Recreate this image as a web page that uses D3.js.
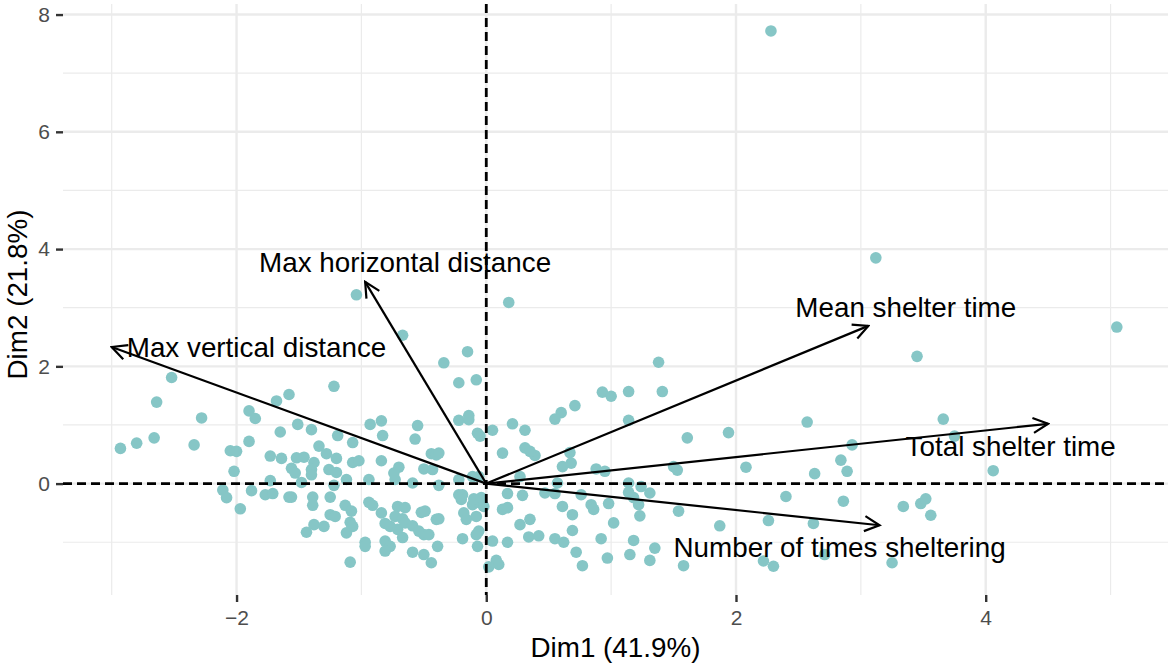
<!DOCTYPE html>
<html>
<head>
<meta charset="utf-8">
<script src="https://cdn.jsdelivr.net/npm/d3@7"></script>
<style>
  body { margin: 0; background: #fff; }
  text { font-family: "Liberation Sans", Arial, Helvetica, sans-serif; }
</style>
</head>
<body>
<div id="chart"></div>
<script>
// individuals: [Dim1, Dim2]
const individuals = [
  [-2.52,1.81],[-2.64,1.39],[-2.28,1.12],[-2.93,0.60],[-2.80,0.69],[-2.66,0.78],[-2.34,0.66],
  [-1.90,1.24],[-1.85,1.11],[-1.68,1.41],[-1.58,1.52],[-1.65,0.88],[-1.90,0.72],[-2.05,0.56],
  [-2.00,0.55],[-2.02,0.21],[-1.73,0.47],[-1.64,0.43],[-1.73,0.05],[-2.11,-0.11],[-2.08,-0.24],
  [-1.88,-0.12],[-1.77,-0.19],[-1.71,-0.17],[-1.97,-0.43],[-1.58,-0.23],[-1.22,1.66],[-1.51,1.01],
  [-1.40,0.92],[-1.19,0.82],[-1.07,0.70],[-1.34,0.64],[-1.28,0.51],[-1.20,0.43],[-1.52,0.44],
  [-1.46,0.45],[-1.38,0.36],[-1.56,0.26],[-1.53,0.18],[-1.40,0.24],[-1.40,0.15],[-1.26,0.24],
  [-1.20,0.19],[-1.07,0.36],[-1.02,0.39],[-0.84,0.39],[-0.93,1.01],[-0.84,1.07],[-0.83,0.82],
  [-0.55,0.99],[-0.57,0.76],[-0.44,0.51],[-0.40,0.49],[-0.70,0.28],[-0.74,0.18],[-0.50,0.25],
  [-0.43,0.24],[-1.48,0.02],[-1.22,-0.03],[-1.12,0.07],[-0.94,0.07],[-0.73,0.07],[-0.59,0.01],
  [-0.38,-0.03],[-0.22,0.07],[-1.56,-0.23],[-1.39,-0.23],[-1.39,-0.37],[-1.25,-0.23],[-1.13,-0.37],
  [-1.08,-0.47],[-0.94,-0.32],[-0.91,-0.37],[-0.71,-0.39],[-0.65,-0.41],[-0.84,-0.50],[-0.73,-0.56],
  [-0.67,-0.60],[-0.52,-0.49],[-0.49,-0.47],[-1.25,-0.53],[-1.21,-0.56],[-0.81,-0.68],[-0.77,-0.73],
  [-0.65,-0.67],[-0.59,-0.72],[-0.40,-0.61],[-0.38,-0.60],[-1.09,-0.66],[-1.07,-0.73],[-1.38,-0.70],
  [-1.30,-0.73],[-1.44,-0.83],[-1.12,-0.84],[-0.71,-0.78],[-0.67,-0.92],[-0.54,-0.81],[-0.50,-0.87],
  [-0.46,-0.87],[-0.97,-1.00],[-0.97,-1.07],[-0.81,-0.98],[-0.77,-1.07],[-0.81,-1.15],[-0.59,-1.17],
  [-0.50,-1.21],[-0.44,-1.35],[-0.39,-1.07],[-1.09,-1.34],[-0.22,-0.19],[-0.19,-0.19],[-0.20,-0.27],
  [-0.11,-0.36],[-0.06,-0.32],[-0.02,-0.39],[-0.08,-0.56],[-0.18,-0.50],[-0.16,-0.61],[-0.06,-0.81],
  [-0.08,-0.87],[-0.19,-0.94],[-0.07,-1.07],[-0.22,1.72],[-0.08,1.77],[-0.22,1.08],[-0.14,1.16],
  [-0.14,1.09],[-0.07,0.86],[-0.05,0.81],[-0.06,0.12],[-0.11,0.12],[-1.04,3.22],[-0.67,2.53],
  [-0.15,2.25],[-0.34,2.06],[0.18,3.09],[1.38,2.07],[0.93,1.56],[1.00,1.49],[1.14,1.57],
  [1.41,1.57],[0.71,1.33],[0.60,1.21],[0.55,1.10],[1.14,1.08],[1.61,0.78],[0.21,1.02],
  [0.05,0.91],[0.31,0.91],[0.13,0.52],[0.31,0.61],[0.39,0.48],[0.35,0.55],[0.67,0.53],
  [0.68,0.35],[0.61,0.29],[0.88,0.25],[0.95,0.21],[1.50,0.29],[1.53,0.23],[-0.38,0.52],
  [0.27,0.12],[1.14,0.01],[0.57,0.01],[1.24,-0.05],[1.31,-0.16],[1.14,-0.15],[1.18,-0.24],
  [0.17,-0.17],[0.29,-0.20],[0.47,-0.16],[0.55,-0.17],[0.76,-0.19],[-0.10,-0.26],[-0.04,-0.24],
  [0.84,-0.36],[0.86,-0.44],[0.98,-0.34],[0.61,-0.39],[1.22,-0.36],[1.23,-0.55],[0.13,-0.44],
  [0.17,-0.41],[0.69,-0.53],[1.54,-0.47],[0.35,-0.61],[0.27,-0.70],[1.02,-0.67],[0.69,-0.80],
  [0.05,-0.98],[0.17,-1.00],[0.34,-0.91],[0.42,-0.89],[0.55,-0.94],[0.62,-1.00],[0.92,-0.94],
  [1.18,-0.97],[0.72,-1.17],[0.97,-1.27],[1.15,-1.21],[1.35,-1.10],[1.31,-1.31],[0.08,-1.31],
  [0.10,-1.38],[0.02,-1.42],[0.77,-1.40],[1.58,-1.40],[2.57,1.05],[3.66,1.10],[1.94,0.87],
  [2.93,0.66],[2.84,0.40],[2.89,0.21],[2.08,0.28],[2.63,0.17],[2.40,-0.22],[2.86,-0.30],
  [3.34,-0.39],[3.48,-0.34],[3.52,-0.26],[3.56,-0.54],[2.26,-0.63],[2.62,-0.68],[1.87,-0.72],
  [2.22,-1.32],[2.30,-1.41],[2.71,-1.21],[3.25,-1.35],[5.05,2.67],[3.45,2.17],[3.75,0.81],
  [4.06,0.22],[2.28,7.72],[3.12,3.85]
];

// variable arrows
const variableNames = ["Max horizontal distance", "Max vertical distance", "Mean shelter time",
                       "Total shelter time", "Number of times sheltering"];
const variableDim1 = [-0.97, -3.00, 3.06, 4.50, 3.15];
const variableDim2 = [3.44, 2.33, 2.69, 1.02, -0.71];
// where each label sits (data units, centre of text)
const labelDim1 = [-0.65, -1.84, 3.36, 4.20, 2.83];
const labelDim2 = [3.78, 2.33, 3.01, 0.64, -1.08];

const xTicks = [-2, 0, 2, 4];
const yTicks = [0, 2, 4, 6, 8];
const xMinor = [-3, -1, 1, 3, 5];
const yMinor = [-1, 1, 3, 5, 7];
const xTitle = "Dim1 (41.9%)";
const yTitle = "Dim2 (21.8%)";

const width = 1170, height = 666;
const panel = { left: 63, right: 1168, top: 4, bottom: 595 };

const svg = d3.select("#chart").append("svg")
    .attr("width", width)
    .attr("height", height);

const x = d3.scaleLinear().domain([-3.39, 5.46]).range([panel.left, panel.right]);
const y = d3.scaleLinear().domain([-1.90, 8.18]).range([panel.bottom, panel.top]);

// grid
const grid = svg.append("g");
grid.selectAll(".xminor").data(xMinor).enter().append("line")
    .attr("x1", d => x(d)).attr("x2", d => x(d))
    .attr("y1", panel.top).attr("y2", panel.bottom)
    .attr("stroke", "#ebebeb").attr("stroke-width", 1.2);
grid.selectAll(".yminor").data(yMinor).enter().append("line")
    .attr("y1", d => y(d)).attr("y2", d => y(d))
    .attr("x1", panel.left).attr("x2", panel.right)
    .attr("stroke", "#ebebeb").attr("stroke-width", 1.2);
grid.selectAll(".xmajor").data(xTicks).enter().append("line")
    .attr("x1", d => x(d)).attr("x2", d => x(d))
    .attr("y1", panel.top).attr("y2", panel.bottom)
    .attr("stroke", "#ebebeb").attr("stroke-width", 2.4);
grid.selectAll(".ymajor").data(yTicks).enter().append("line")
    .attr("y1", d => y(d)).attr("y2", d => y(d))
    .attr("x1", panel.left).attr("x2", panel.right)
    .attr("stroke", "#ebebeb").attr("stroke-width", 2.4);

// axes
const xAxis = svg.append("g")
    .attr("transform", "translate(0," + panel.bottom + ")")
    .call(d3.axisBottom(x).tickValues(xTicks).tickSize(7).tickPadding(8));
const yAxis = svg.append("g")
    .attr("transform", "translate(" + panel.left + ",0)")
    .call(d3.axisLeft(y).tickValues(yTicks).tickSize(7).tickPadding(6));
[xAxis, yAxis].forEach(a => {
    a.select(".domain").remove();
    a.selectAll(".tick line").attr("stroke", "#333").attr("stroke-width", 2.4);
    a.selectAll(".tick text")
        .attr("fill", "#4d4d4d")
        .style("font-size", "21px")
        .style("font-family", "'Liberation Sans', Arial, sans-serif");
});

// points
svg.append("g").selectAll("circle")
    .data(individuals)
    .enter().append("circle")
        .attr("cx", d => x(d[0]))
        .attr("cy", d => y(d[1]))
        .attr("r", 5.8)
        .attr("fill", "#86c6c6");

// dashed reference lines
svg.append("line")
    .attr("x1", panel.left).attr("x2", panel.right)
    .attr("y1", y(0)).attr("y2", y(0))
    .attr("stroke", "#000").attr("stroke-width", 2.8)
    .attr("stroke-dasharray", "9,5");
svg.append("line")
    .attr("x1", x(0)).attr("x2", x(0))
    .attr("y1", panel.top).attr("y2", panel.bottom)
    .attr("stroke", "#000").attr("stroke-width", 2.8)
    .attr("stroke-dasharray", "9,5");

// arrows
svg.append("defs").append("marker")
    .attr("id", "head")
    .attr("markerUnits", "userSpaceOnUse")
    .attr("viewBox", "-17 -9 19 18")
    .attr("markerWidth", 19).attr("markerHeight", 18)
    .attr("refX", 0).attr("refY", 0)
    .attr("orient", "auto")
  .append("path")
    .attr("d", "M-15,-7.5L0,0L-15,7.5")
    .attr("fill", "none")
    .attr("stroke", "#000")
    .attr("stroke-width", 2.2);

svg.append("g").selectAll("line")
    .data(variableNames)
    .enter().append("line")
        .attr("x1", x(0)).attr("y1", y(0))
        .attr("x2", (d, i) => x(variableDim1[i]))
        .attr("y2", (d, i) => y(variableDim2[i]))
        .attr("stroke", "#000")
        .attr("stroke-width", 2.2)
        .attr("marker-end", "url(#head)");

svg.append("g").selectAll("text")
    .data(variableNames)
    .enter().append("text")
        .attr("x", (d, i) => x(labelDim1[i]))
        .attr("y", (d, i) => y(labelDim2[i]))
        .attr("dy", "0.36em")
        .attr("text-anchor", "middle")
        .style("font-size", "27.8px")
        .attr("fill", "#000")
        .text(d => d);

// axis titles
svg.append("text")
    .attr("x", (panel.left + panel.right) / 2)
    .attr("y", 657)
    .attr("text-anchor", "middle")
    .style("font-size", "27.8px")
    .text(xTitle);
svg.append("text")
    .attr("transform", "translate(27," + ((panel.top + panel.bottom) / 2 - 5) + ") rotate(-90)")
    .attr("text-anchor", "middle")
    .style("font-size", "27.8px")
    .text(yTitle);
</script>
</body>
</html>
